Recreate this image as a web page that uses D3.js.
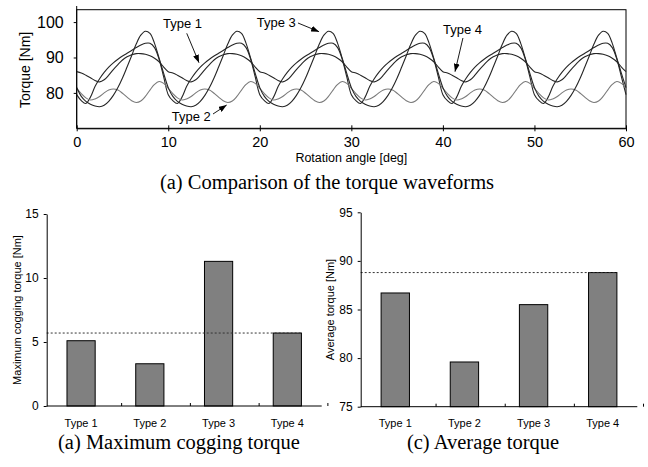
<!DOCTYPE html>
<html>
<head>
<meta charset="utf-8">
<script src="https://cdn.jsdelivr.net/npm/d3@7"></script>
<style>
  body { margin: 0; background: #fff; }
  text { font-family: "Liberation Sans", Arial, sans-serif; fill: #000; }
  .caption { font-family: "Liberation Serif", "Times New Roman", serif; }
</style>
</head>
<body>
<script>
// Torque waveforms, one value every 0.5 deg from 0 to 60 deg
const angleStep = 0.5;
const type1 = [
  79.5,77.8,77.0,78.8,81.8,84.0,85.8,87.3,88.5,89.5,90.4,91.2,92.0,92.8,93.5,94.0,94.0,92.8,89.5,84.5,
  79.5,77.8,77.0,78.8,81.8,84.0,85.8,87.3,88.5,89.5,90.4,91.2,92.0,92.8,93.5,94.0,94.0,92.8,89.5,84.5,
  79.5,77.8,77.0,78.8,81.8,84.0,85.8,87.3,88.5,89.5,90.4,91.2,92.0,92.8,93.5,94.0,94.0,92.8,89.5,84.5,
  79.5,77.8,77.0,78.8,81.8,84.0,85.8,87.3,88.5,89.5,90.4,91.2,92.0,92.8,93.5,94.0,94.0,92.8,89.5,84.5,
  79.5,77.8,77.0,78.8,81.8,84.0,85.8,87.3,88.5,89.5,90.4,91.2,92.0,92.8,93.5,94.0,94.0,92.8,89.5,84.5,
  79.5,77.8,77.0,78.8,81.8,84.0,85.8,87.3,88.5,89.5,90.4,91.2,92.0,92.8,93.5,94.0,94.0,92.8,89.5,84.5,
  79.5
];
const type2 = [
  81.3,79.8,78.6,78.0,78.3,79.0,80.0,80.8,81.1,80.8,79.9,78.8,77.8,77.3,77.7,79.0,80.8,82.4,83.2,82.7,
  81.3,79.8,78.6,78.0,78.3,79.0,80.0,80.8,81.1,80.8,79.9,78.8,77.8,77.3,77.7,79.0,80.8,82.4,83.2,82.7,
  81.3,79.8,78.6,78.0,78.3,79.0,80.0,80.8,81.1,80.8,79.9,78.8,77.8,77.3,77.7,79.0,80.8,82.4,83.2,82.7,
  81.3,79.8,78.6,78.0,78.3,79.0,80.0,80.8,81.1,80.8,79.9,78.8,77.8,77.3,77.7,79.0,80.8,82.4,83.2,82.7,
  81.3,79.8,78.6,78.0,78.3,79.0,80.0,80.8,81.1,80.8,79.9,78.8,77.8,77.3,77.7,79.0,80.8,82.4,83.2,82.7,
  81.3,79.8,78.6,78.0,78.3,79.0,80.0,80.8,81.1,80.8,79.9,78.8,77.8,77.3,77.7,79.0,80.8,82.4,83.2,82.7,
  81.3
];
const type3 = [
  81.5,79.0,77.6,76.8,76.3,76.1,76.5,77.6,79.3,81.5,84.2,87.3,90.5,93.8,96.3,97.4,96.8,94.0,89.8,85.5,
  81.5,79.0,77.6,76.8,76.3,76.1,76.5,77.6,79.3,81.5,84.2,87.3,90.5,93.8,96.3,97.4,96.8,94.0,89.8,85.5,
  81.5,79.0,77.6,76.8,76.3,76.1,76.5,77.6,79.3,81.5,84.2,87.3,90.5,93.8,96.3,97.4,96.8,94.0,89.8,85.5,
  81.5,79.0,77.6,76.8,76.3,76.1,76.5,77.6,79.3,81.5,84.2,87.3,90.5,93.8,96.3,97.4,96.8,94.0,89.8,85.5,
  81.5,79.0,77.6,76.8,76.3,76.1,76.5,77.6,79.3,81.5,84.2,87.3,90.5,93.8,96.3,97.4,96.8,94.0,89.8,85.5,
  81.5,79.0,77.6,76.8,76.3,76.1,76.5,77.6,79.3,81.5,84.2,87.3,90.5,93.8,96.3,97.4,96.8,94.0,89.8,85.5,
  81.5
];
const type4 = [
  86.0,85.6,85.0,84.3,83.5,83.1,83.7,85.0,86.6,88.0,89.3,90.2,90.8,91.1,91.1,90.9,90.5,89.8,88.8,87.3,
  86.0,85.6,85.0,84.3,83.5,83.1,83.7,85.0,86.6,88.0,89.3,90.2,90.8,91.1,91.1,90.9,90.5,89.8,88.8,87.3,
  86.0,85.6,85.0,84.3,83.5,83.1,83.7,85.0,86.6,88.0,89.3,90.2,90.8,91.1,91.1,90.9,90.5,89.8,88.8,87.3,
  86.0,85.6,85.0,84.3,83.5,83.1,83.7,85.0,86.6,88.0,89.3,90.2,90.8,91.1,91.1,90.9,90.5,89.8,88.8,87.3,
  86.0,85.6,85.0,84.3,83.5,83.1,83.7,85.0,86.6,88.0,89.3,90.2,90.8,91.1,91.1,90.9,90.5,89.8,88.8,87.3,
  86.0,85.6,85.0,84.3,83.5,83.1,83.7,85.0,86.6,88.0,89.3,90.2,90.8,91.1,91.1,90.9,90.5,89.8,88.8,87.3,
  86.0
];
const angleTicks = [0, 10, 20, 30, 40, 50, 60];
const torqueTicks = [80, 90, 100];

// Type labels with arrows, in data units (angle, torque)
const waveLabels = ["Type 1", "Type 2", "Type 3", "Type 4"];
const labelAt = [[9.43, 98.2], [10.38, 72.06], [19.66, 98.61], [40.01, 96.64]];
const arrowFrom = [[12.02, 96.83], [14.89, 74.04], [24.17, 99.74], [42.19, 95.51]];
const arrowTo = [[13.36, 88.53], [16.38, 76.58], [26.47, 97.29], [41.32, 85.99]];

// Bar charts
const types = ["Type 1", "Type 2", "Type 3", "Type 4"];
const coggingTorque = [5.1, 3.3, 11.3, 5.7];
const averageTorque = [86.7, 79.6, 85.5, 88.8];
const coggingTicks = [0, 5, 10, 15];
const averageTicks = [75, 80, 85, 90, 95];
const coggingRef = 5.7;
const averageRef = 88.8;

const width = 648, height = 467;

const svg = d3.select("body").append("svg")
  .attr("width", width)
  .attr("height", height);

svg.append("defs").append("marker")
  .attr("id", "arrow")
  .attr("viewBox", "0 0 8 6")
  .attr("refX", 8).attr("refY", 3)
  .attr("markerWidth", 8).attr("markerHeight", 6)
  .attr("markerUnits", "userSpaceOnUse")
  .attr("orient", "auto")
  .append("path")
  .attr("d", "M0,0L8,3L0,6z")
  .attr("fill", "#000");

// ---------- (a) torque waveforms ----------
const x = d3.scaleLinear().domain([0, 60]).range([76.7, 626]);
const y = d3.scaleLinear().domain([70, 103.5]).range([128.3, 9.7]);

const wave = svg.append("g");

// frame
wave.append("rect")
  .attr("x", x(0)).attr("y", y(103.5))
  .attr("width", x(60) - x(0)).attr("height", y(70) - y(103.5))
  .attr("fill", "none").attr("stroke", "#000").attr("stroke-width", 1);

const series = [type1, type2, type3, type4];
const line = d3.line()
  .x((d, i) => x(i * angleStep))
  .y(d => y(d))
  .curve(d3.curveCatmullRom.alpha(0.5));

wave.selectAll("path.wave")
  .data(series)
  .join("path")
  .attr("class", "wave")
  .attr("d", line)
  .attr("fill", "none")
  .attr("stroke", (d, i) => i === 1 ? "#7a7a7a" : "#262626")
  .attr("stroke-width", 1.1);

// axes
const xAxis = wave.append("g")
  .attr("transform", `translate(0,${y(70)})`)
  .call(d3.axisBottom(x).tickValues(angleTicks).tickSize(3).tickSizeOuter(0).tickPadding(5));
xAxis.selectAll(".tick line").attr("y1", -3);
xAxis.selectAll("text").style("font-size", "14.5px");

const yAxis = wave.append("g")
  .attr("transform", `translate(${x(0)},0)`)
  .call(d3.axisLeft(y).tickValues(torqueTicks).tickSize(3).tickSizeOuter(0).tickPadding(10));
yAxis.selectAll("text").style("font-size", "16px");
yAxis.select(".domain").attr("d", `M0,${y(70)}V6`);

wave.append("text")
  .attr("transform", `translate(29.5,${y(86.5)}) rotate(-90)`)
  .attr("text-anchor", "middle")
  .style("font-size", "14px")
  .text("Torque [Nm]");

wave.append("text")
  .attr("x", x(30)).attr("y", 161.5)
  .attr("text-anchor", "middle")
  .style("font-size", "12.5px")
  .text("Rotation angle [deg]");

// type labels and arrows
waveLabels.forEach((name, i) => {
  wave.append("text")
    .attr("x", x(labelAt[i][0])).attr("y", y(labelAt[i][1]))
    .style("font-size", "13px")
    .text(name);
  wave.append("line")
    .attr("x1", x(arrowFrom[i][0])).attr("y1", y(arrowFrom[i][1]))
    .attr("x2", x(arrowTo[i][0])).attr("y2", y(arrowTo[i][1]))
    .attr("stroke", "#000").attr("stroke-width", 0.9)
    .attr("marker-end", "url(#arrow)");
});

svg.append("text")
  .attr("class", "caption")
  .attr("x", 327).attr("y", 189)
  .attr("text-anchor", "middle")
  .style("font-size", "20.5px")
  .text("(a) Comparison of the torque waveforms");

// ---------- bar charts ----------
function barChart(values, ticks, refValue, xRange, yRange, domain, title, titleX, caption, captionX) {
  const g = svg.append("g");
  const bx = d3.scaleBand().domain(types).range(xRange).paddingInner(0.59).paddingOuter(0.295);
  const by = d3.scaleLinear().domain(domain).range(yRange);

  g.selectAll("rect")
    .data(values)
    .join("rect")
    .attr("x", (d, i) => bx(types[i]))
    .attr("y", d => by(d))
    .attr("width", bx.bandwidth())
    .attr("height", d => by(domain[0]) - by(d))
    .attr("fill", "#808080")
    .attr("stroke", "#000")
    .attr("stroke-width", 1);

  // dashed reference line at Type 4 level
  g.append("line")
    .attr("x1", xRange[0]).attr("x2", bx("Type 4") + bx.bandwidth())
    .attr("y1", by(refValue)).attr("y2", by(refValue))
    .attr("stroke", "#333").attr("stroke-width", 1)
    .attr("stroke-dasharray", "2,2");

  const ax = g.append("g")
    .attr("transform", `translate(0,${by(domain[0])})`)
    .call(d3.axisBottom(bx).tickSize(0).tickPadding(13));
  ax.select(".domain").attr("d", `M${xRange[0]},0H${xRange[1]}`);
  ax.selectAll("text").style("font-size", "11px");
  // small ticks between the categories
  g.selectAll("line.sep")
    .data(types)
    .join("line")
    .attr("class", "sep")
    .attr("x1", d => bx(d) + bx.step() * 0.795)
    .attr("x2", d => bx(d) + bx.step() * 0.795)
    .attr("y1", by(domain[0]))
    .attr("y2", by(domain[0]) - 3)
    .attr("stroke", "#000");

  const ay = g.append("g")
    .attr("transform", `translate(${xRange[0]},0)`)
    .call(d3.axisLeft(by).tickValues(ticks).tickSize(3).tickSizeOuter(0).tickPadding(5));
  ay.selectAll("text").style("font-size", "12px");

  g.append("text")
    .attr("transform", `translate(${titleX},${(yRange[0] + yRange[1]) / 2}) rotate(-90)`)
    .attr("text-anchor", "middle")
    .style("font-size", "11px")
    .text(title);

  svg.append("text")
    .attr("class", "caption")
    .attr("x", captionX).attr("y", 449)
    .attr("text-anchor", "middle")
    .style("font-size", "20.5px")
    .text(caption);
}

barChart(coggingTorque, coggingTicks, coggingRef, [46.7, 321.7], [406, 214], [0, 15],
  "Maximum cogging torque [Nm]", 20.5, "(a) Maximum cogging torque", 179);
barChart(averageTorque, averageTicks, averageRef, [360.7, 637.3], [406.7, 212.3], [75, 95],
  "Average torque [Nm]", 334, "(c) Average torque", 483);
</script>
</body>
</html>
